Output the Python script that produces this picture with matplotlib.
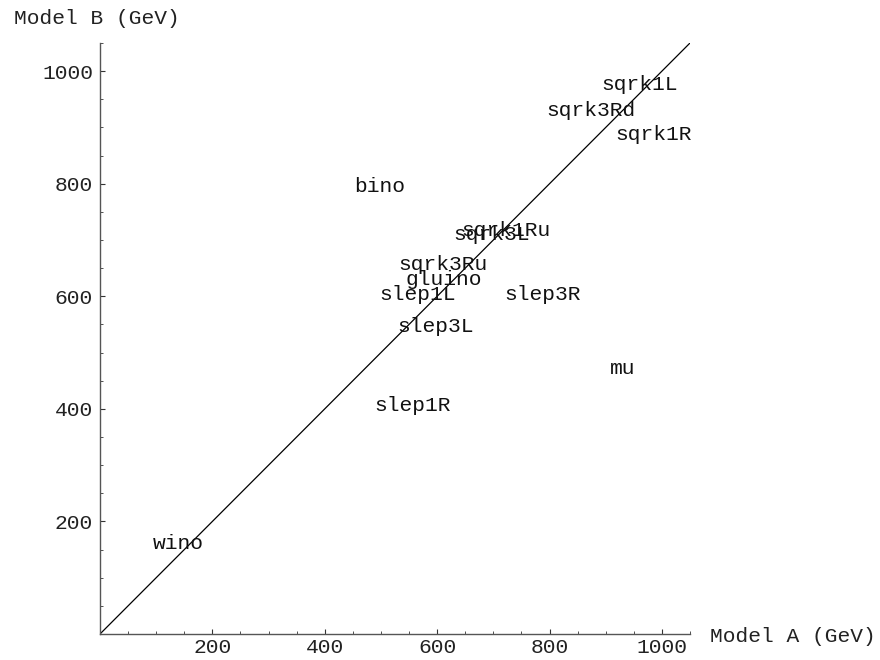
import numpy as np
import matplotlib
matplotlib.use("Agg")
import matplotlib.pyplot as plt
from matplotlib.ticker import MultipleLocator

# particules et masses (GeV) : modele A en x, modele B en y
noms = ["wino", "bino", "sqrk1L", "sqrk3Rd", "sqrk1R", "sqrk1Ru", "sqrk3L",
        "sqrk3Ru", "gluino", "slep1L", "slep3R", "slep3L", "slep1R", "mu"]
masse_A = [140, 498, 961, 874, 986, 722, 697, 610, 612, 566, 788, 597, 557, 931]
masse_B = [160, 795, 977, 930, 888, 717, 709, 657, 629, 603, 603, 547, 406, 472]

xy_max = 1050
diag = [0, xy_max]

police = "Liberation Mono"
taille = 15.3

fig = plt.figure(figsize=(8.8, 6.6), dpi=100)
ax = fig.add_axes([100 / 880, 26 / 660, 590 / 880, 591 / 660])

ax.plot(diag, diag, color="black", lw=0.9)
for nom, a, b in zip(noms, masse_A, masse_B):
    ax.text(a, b, nom, ha="center", va="center", family=police,
            fontsize=taille, color="#111111")

ax.set_xlim(0, xy_max)
ax.set_ylim(0, xy_max)
ax.spines["top"].set_visible(False)
ax.spines["right"].set_visible(False)
for s in ("left", "bottom"):
    ax.spines[s].set_color("#555555")
    ax.spines[s].set_linewidth(1.0)

ax.xaxis.set_major_locator(MultipleLocator(200))
ax.yaxis.set_major_locator(MultipleLocator(200))
ax.xaxis.set_minor_locator(MultipleLocator(50))
ax.yaxis.set_minor_locator(MultipleLocator(50))
ax.tick_params(which="major", direction="in", length=3.5, width=0.8,
               color="#333333", labelsize=taille, pad=5)
ax.tick_params(axis="x", which="major", pad=3)
ax.tick_params(which="minor", direction="in", length=2, width=0.6,
               color="#333333")
ax.set_xticks([200, 400, 600, 800, 1000])
ax.set_yticks([200, 400, 600, 800, 1000])
for lab in ax.get_xticklabels() + ax.get_yticklabels():
    lab.set_family(police)
    lab.set_color("#222222")

fig.text(14 / 880, 1 - 19 / 660, "Model B (GeV)", family=police,
         fontsize=taille, ha="left", va="center", color="#222222")
fig.text(710 / 880, 1 - 636 / 660, "Model A (GeV)", family=police,
         fontsize=taille, ha="left", va="center", color="#222222")

fig.savefig("out.png", dpi=100)
